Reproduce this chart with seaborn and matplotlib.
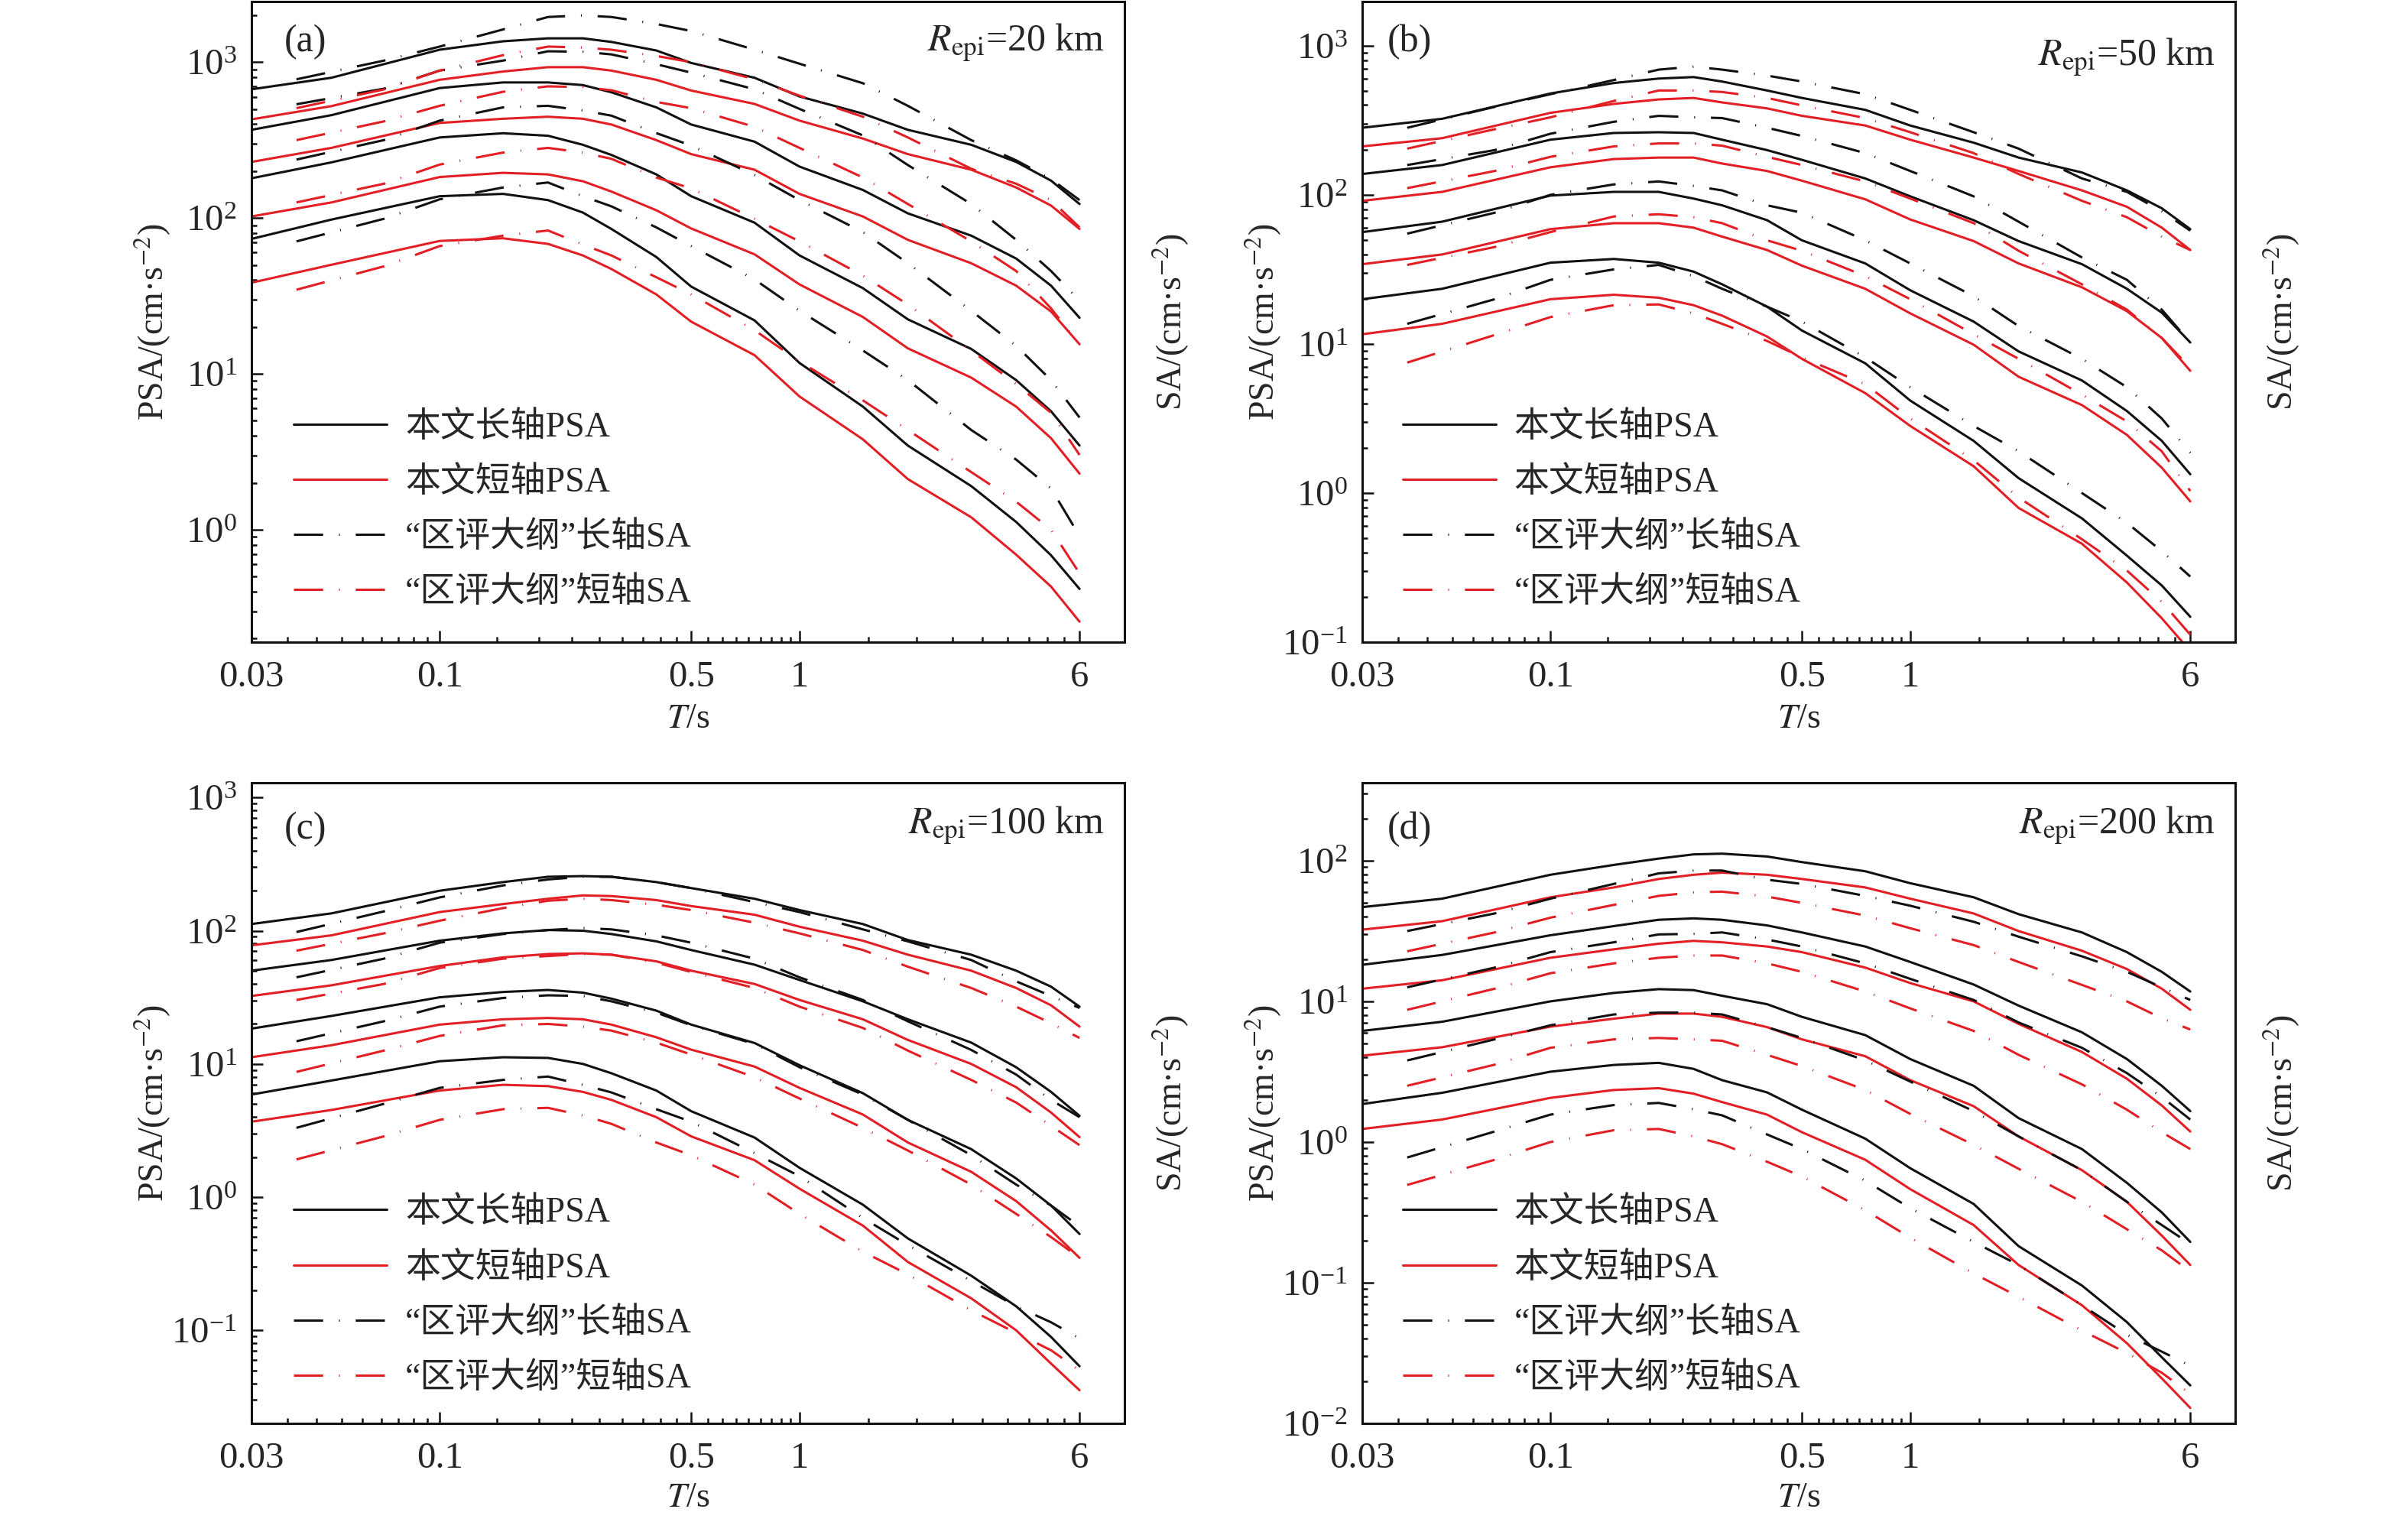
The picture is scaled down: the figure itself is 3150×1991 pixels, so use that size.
import numpy as np
import pandas as pd
import matplotlib
matplotlib.use('Agg')
import matplotlib.pyplot as plt  # type: ignore
import seaborn as sns  # type: ignore
from matplotlib.lines import Line2D
from matplotlib.ticker import FixedLocator, FixedFormatter, LogLocator, NullFormatter

# Periods (s)
T_psa = [0.03, 0.05, 0.1, 0.15, 0.2, 0.25, 0.3, 0.4, 0.5, 0.75, 1.0, 1.5, 2.0, 3.0, 4.0, 5.0, 6.0]
T_sa = [0.04, 0.07, 0.1, 0.15, 0.2, 0.25, 0.3, 0.4, 0.5, 0.75, 1.0, 1.5, 2.0, 3.0, 4.0, 5.0, 6.0]

# log10 of acceleration (cm/s^2), 4 magnitude groups per curve type
# (a) Repi = 20 km
psa_long_a = [
    [2.826, 2.90, 3.08, 3.134, 3.153, 3.153, 3.13, 3.075, 2.995, 2.90, 2.78, 2.67, 2.566, 2.47, 2.36, 2.24, 2.09],
    [2.566, 2.66, 2.834, 2.87, 2.87, 2.853, 2.807, 2.71, 2.60, 2.49, 2.33, 2.18, 2.03, 1.887, 1.74, 1.566, 1.36],
    [2.255, 2.357, 2.517, 2.544, 2.528, 2.47, 2.405, 2.28, 2.14, 1.97, 1.76, 1.55, 1.35, 1.16, 0.96, 0.76, 0.54],
    [1.866, 1.99, 2.14, 2.155, 2.115, 2.035, 1.93, 1.75, 1.56, 1.343, 1.07, 0.79, 0.54, 0.28, 0.05, -0.164, -0.38],
]
psa_short_a = [
    [2.633, 2.718, 2.887, 2.94, 2.968, 2.968, 2.946, 2.887, 2.818, 2.732, 2.625, 2.51, 2.41, 2.31, 2.196, 2.08, 1.93],
    [2.36, 2.45, 2.61, 2.637, 2.65, 2.637, 2.60, 2.50, 2.41, 2.31, 2.155, 2.01, 1.86, 1.71, 1.566, 1.40, 1.19],
    [2.01, 2.10, 2.263, 2.29, 2.28, 2.236, 2.17, 2.05, 1.933, 1.767, 1.574, 1.365, 1.164, 0.976, 0.79, 0.587, 0.36],
    [1.585, 1.70, 1.853, 1.87, 1.834, 1.76, 1.673, 1.51, 1.335, 1.12, 0.855, 0.58, 0.325, 0.08, -0.16, -0.365, -0.59],
]
sa_long_a = [
    [2.89, 3.01, 3.10, 3.21, 3.29, 3.30, 3.29, 3.245, 3.20, 3.08, 2.99, 2.865, 2.72, 2.50, 2.37, 2.25, 2.115],
    [2.73, 2.83, 2.946, 3.01, 3.07, 3.067, 3.05, 2.987, 2.933, 2.826, 2.70, 2.53, 2.34, 2.09, 1.86, 1.66, 1.47],
    [2.375, 2.50, 2.625, 2.71, 2.72, 2.69, 2.657, 2.545, 2.465, 2.276, 2.115, 1.91, 1.71, 1.405, 1.18, 0.96, 0.72],
    [1.85, 1.995, 2.12, 2.196, 2.228, 2.14, 2.075, 1.94, 1.82, 1.606, 1.405, 1.15, 0.96, 0.64, 0.45, 0.265, -0.04],
]
sa_short_a = [
    [2.705, 2.825, 2.946, 3.045, 3.10, 3.094, 3.08, 3.04, 3.0, 2.89, 2.785, 2.65, 2.517, 2.316, 2.22, 2.115, 1.94],
    [2.50, 2.62, 2.72, 2.81, 2.845, 2.84, 2.82, 2.745, 2.705, 2.585, 2.45, 2.26, 2.09, 1.85, 1.66, 1.42, 1.19],
    [2.10, 2.22, 2.343, 2.42, 2.45, 2.42, 2.38, 2.26, 2.19, 1.995, 1.85, 1.63, 1.445, 1.15, 0.935, 0.75, 0.48],
    [1.54, 1.69, 1.82, 1.887, 1.92, 1.83, 1.76, 1.62, 1.51, 1.28, 1.08, 0.83, 0.64, 0.37, 0.18, 0.0, -0.28],
]

# (b) Repi = 50 km
psa_long_b = [
    [2.45, 2.51, 2.68, 2.75, 2.78, 2.79, 2.76, 2.70, 2.65, 2.57, 2.465, 2.35, 2.25, 2.15, 2.03, 1.91, 1.77],
    [2.14, 2.20, 2.37, 2.415, 2.42, 2.415, 2.37, 2.30, 2.235, 2.11, 1.99, 1.83, 1.69, 1.535, 1.37, 1.21, 1.01],
    [1.75, 1.82, 1.995, 2.02, 2.02, 1.975, 1.93, 1.83, 1.695, 1.54, 1.36, 1.15, 0.95, 0.755, 0.55, 0.35, 0.126],
    [1.30, 1.37, 1.545, 1.57, 1.545, 1.485, 1.40, 1.25, 1.09, 0.87, 0.62, 0.35, 0.10, -0.17, -0.42, -0.62, -0.83],
]
psa_short_b = [
    [2.325, 2.38, 2.55, 2.61, 2.64, 2.65, 2.62, 2.58, 2.53, 2.465, 2.37, 2.25, 2.16, 2.03, 1.92, 1.78, 1.63],
    [1.96, 2.02, 2.185, 2.24, 2.25, 2.25, 2.21, 2.16, 2.095, 1.97, 1.835, 1.69, 1.54, 1.38, 1.22, 1.04, 0.82],
    [1.535, 1.60, 1.77, 1.81, 1.81, 1.78, 1.72, 1.63, 1.525, 1.37, 1.205, 0.995, 0.78, 0.59, 0.39, 0.17, -0.056],
    [1.065, 1.135, 1.30, 1.33, 1.31, 1.26, 1.19, 1.05, 0.90, 0.67, 0.45, 0.18, -0.10, -0.34, -0.60, -0.84, -1.06],
]
sa_long_b = [
    [2.45, 2.59, 2.675, 2.77, 2.84, 2.86, 2.84, 2.80, 2.76, 2.675, 2.57, 2.42, 2.31, 2.11, 2.02, 1.89, 1.76],
    [2.20, 2.30, 2.41, 2.49, 2.53, 2.52, 2.515, 2.45, 2.395, 2.28, 2.16, 1.99, 1.82, 1.58, 1.43, 1.23, 1.01],
    [1.74, 1.88, 2.0, 2.07, 2.09, 2.06, 2.03, 1.93, 1.88, 1.695, 1.54, 1.32, 1.12, 0.90, 0.71, 0.50, 0.27],
    [1.135, 1.30, 1.43, 1.50, 1.53, 1.455, 1.37, 1.25, 1.15, 0.91, 0.71, 0.45, 0.28, 0.0, -0.20, -0.39, -0.56],
]
sa_short_b = [
    [2.31, 2.44, 2.52, 2.63, 2.70, 2.70, 2.69, 2.65, 2.60, 2.515, 2.42, 2.28, 2.14, 1.96, 1.85, 1.72, 1.63],
    [2.045, 2.16, 2.255, 2.325, 2.345, 2.345, 2.33, 2.255, 2.20, 2.09, 1.975, 1.81, 1.625, 1.40, 1.23, 1.04, 0.84],
    [1.53, 1.65, 1.75, 1.855, 1.87, 1.85, 1.81, 1.695, 1.625, 1.455, 1.30, 1.065, 0.90, 0.66, 0.48, 0.28, 0.014],
    [0.875, 1.06, 1.18, 1.26, 1.265, 1.205, 1.135, 1.02, 0.91, 0.73, 0.50, 0.22, -0.03, -0.31, -0.52, -0.73, -0.95],
]

# (c) Repi = 100 km
psa_long_c = [
    [2.05, 2.13, 2.30, 2.365, 2.405, 2.41, 2.405, 2.365, 2.32, 2.24, 2.155, 2.05, 1.93, 1.82, 1.70, 1.58, 1.43],
    [1.70, 1.78, 1.925, 1.98, 2.005, 2.0, 1.975, 1.92, 1.855, 1.745, 1.63, 1.47, 1.335, 1.16, 0.975, 0.79, 0.61],
    [1.265, 1.36, 1.50, 1.54, 1.555, 1.535, 1.49, 1.40, 1.295, 1.157, 0.99, 0.78, 0.58, 0.36, 0.14, -0.063, -0.277],
    [0.77, 0.875, 1.02, 1.05, 1.045, 1.0, 0.93, 0.80, 0.645, 0.447, 0.22, -0.057, -0.31, -0.59, -0.82, -1.05, -1.27],
]
psa_short_c = [
    [1.89, 1.965, 2.14, 2.20, 2.24, 2.265, 2.26, 2.23, 2.185, 2.12, 2.03, 1.925, 1.82, 1.70, 1.57, 1.44, 1.28],
    [1.51, 1.59, 1.735, 1.80, 1.825, 1.83, 1.82, 1.77, 1.70, 1.60, 1.48, 1.335, 1.18, 1.0, 0.825, 0.635, 0.45],
    [1.05, 1.14, 1.295, 1.335, 1.345, 1.335, 1.295, 1.20, 1.107, 0.98, 0.82, 0.62, 0.41, 0.19, -0.03, -0.25, -0.456],
    [0.566, 0.654, 0.80, 0.843, 0.833, 0.79, 0.73, 0.60, 0.456, 0.277, 0.063, -0.214, -0.487, -0.76, -1.0, -1.25, -1.45],
]
sa_long_c = [
    [1.99, 2.145, 2.25, 2.34, 2.385, 2.405, 2.405, 2.365, 2.32, 2.215, 2.14, 2.01, 1.92, 1.78, 1.62, 1.51, 1.42],
    [1.65, 1.79, 1.91, 1.975, 2.005, 2.02, 2.01, 1.965, 1.91, 1.79, 1.65, 1.48, 1.32, 1.105, 0.92, 0.73, 0.60],
    [1.17, 1.32, 1.43, 1.495, 1.515, 1.51, 1.47, 1.385, 1.29, 1.15, 0.975, 0.77, 0.58, 0.315, 0.094, -0.063, -0.22],
    [0.52, 0.70, 0.82, 0.88, 0.905, 0.843, 0.786, 0.66, 0.566, 0.33, 0.157, -0.157, -0.36, -0.63, -0.82, -0.94, -1.06],
]
sa_short_c = [
    [1.85, 1.98, 2.075, 2.17, 2.225, 2.24, 2.23, 2.195, 2.155, 2.06, 1.98, 1.855, 1.73, 1.57, 1.43, 1.305, 1.195],
    [1.48, 1.60, 1.72, 1.79, 1.81, 1.825, 1.82, 1.76, 1.69, 1.57, 1.43, 1.27, 1.10, 0.88, 0.71, 0.535, 0.39],
    [0.94, 1.10, 1.21, 1.29, 1.30, 1.28, 1.25, 1.16, 1.07, 0.90, 0.74, 0.52, 0.35, 0.094, -0.126, -0.30, -0.456],
    [0.283, 0.456, 0.58, 0.66, 0.67, 0.613, 0.55, 0.41, 0.314, 0.094, -0.126, -0.41, -0.58, -0.85, -1.02, -1.15, -1.30],
]

# (d) Repi = 200 km
psa_long_d = [
    [1.67, 1.73, 1.90, 1.97, 2.015, 2.045, 2.05, 2.03, 1.99, 1.925, 1.84, 1.74, 1.62, 1.49, 1.35, 1.21, 1.07],
    [1.26, 1.33, 1.47, 1.535, 1.58, 1.59, 1.58, 1.54, 1.49, 1.39, 1.28, 1.12, 0.97, 0.78, 0.59, 0.40, 0.22],
    [0.79, 0.855, 1.0, 1.06, 1.087, 1.08, 1.04, 0.98, 0.89, 0.76, 0.59, 0.40, 0.17, -0.05, -0.29, -0.50, -0.71],
    [0.27, 0.35, 0.50, 0.548, 0.563, 0.52, 0.44, 0.353, 0.23, 0.024, -0.186, -0.44, -0.74, -1.02, -1.28, -1.53, -1.73],
]
psa_short_d = [
    [1.51, 1.57, 1.74, 1.81, 1.87, 1.90, 1.915, 1.90, 1.87, 1.81, 1.73, 1.625, 1.50, 1.36, 1.23, 1.09, 0.94],
    [1.09, 1.15, 1.31, 1.37, 1.41, 1.43, 1.42, 1.39, 1.35, 1.24, 1.13, 1.0, 0.84, 0.64, 0.45, 0.26, 0.075],
    [0.614, 0.674, 0.82, 0.877, 0.913, 0.913, 0.89, 0.817, 0.73, 0.61, 0.44, 0.255, 0.04, -0.20, -0.425, -0.665, -0.874],
    [0.093, 0.16, 0.314, 0.37, 0.383, 0.344, 0.284, 0.195, 0.07, -0.126, -0.335, -0.59, -0.874, -1.16, -1.43, -1.68, -1.89],
]
sa_long_d = [
    [1.50, 1.625, 1.73, 1.835, 1.91, 1.93, 1.93, 1.865, 1.835, 1.75, 1.68, 1.566, 1.46, 1.32, 1.21, 1.10, 1.01],
    [1.10, 1.24, 1.35, 1.42, 1.476, 1.48, 1.49, 1.44, 1.39, 1.27, 1.16, 1.01, 0.85, 0.67, 0.49, 0.32, 0.16],
    [0.58, 0.73, 0.83, 0.907, 0.92, 0.92, 0.907, 0.817, 0.74, 0.58, 0.43, 0.22, 0.04, -0.20, -0.425, -0.59, -0.725],
    [-0.11, 0.075, 0.195, 0.263, 0.278, 0.233, 0.19, 0.054, -0.05, -0.275, -0.47, -0.71, -0.874, -1.16, -1.37, -1.49, -1.59],
]
sa_short_d = [
    [1.356, 1.49, 1.595, 1.686, 1.75, 1.775, 1.78, 1.745, 1.70, 1.61, 1.52, 1.40, 1.28, 1.117, 1.0, 0.88, 0.80],
    [0.94, 1.09, 1.20, 1.27, 1.31, 1.326, 1.326, 1.27, 1.21, 1.07, 0.95, 0.79, 0.62, 0.41, 0.23, 0.07, -0.05],
    [0.40, 0.55, 0.67, 0.73, 0.74, 0.73, 0.72, 0.62, 0.54, 0.37, 0.20, -0.02, -0.19, -0.425, -0.62, -0.77, -0.92],
    [-0.305, -0.126, 0.0, 0.084, 0.093, 0.04, -0.015, -0.14, -0.245, -0.485, -0.68, -0.934, -1.10, -1.34, -1.50, -1.64, -1.79],
]

kinds = ['本文长轴PSA', '本文短轴PSA', '“区评大纲”长轴SA', '“区评大纲”短轴SA']
panel_tags = ['(a)', '(b)', '(c)', '(d)']
distances = [20, 50, 100, 200]
x_major = [0.03, 0.1, 0.5, 1, 6]
x_major_labels = ['0.03', '0.1', '0.5', '1', '6']

BLACK = '#111111'
RED = '#e31f26'
DASHDOT = (12.5, 6.8, 0.35, 6.8)
palette = {kinds[0]: BLACK, kinds[1]: RED, kinds[2]: BLACK, kinds[3]: RED}
dash_map = {kinds[0]: '', kinds[1]: '', kinds[2]: DASHDOT, kinds[3]: DASHDOT}

panels = [
    dict(psa_l=psa_long_a, psa_s=psa_short_a, sa_l=sa_long_a, sa_s=sa_short_a, ylim=(0.19, 2450)),
    dict(psa_l=psa_long_b, psa_s=psa_short_b, sa_l=sa_long_b, sa_s=sa_short_b, ylim=(0.1, 1980)),
    dict(psa_l=psa_long_c, psa_s=psa_short_c, sa_l=sa_long_c, sa_s=sa_short_c, ylim=(0.02, 1290)),
    dict(psa_l=psa_long_d, psa_s=psa_short_d, sa_l=sa_long_d, sa_s=sa_short_d, ylim=(0.01, 358)),
]


def to_frame(p):
    rows = []
    for kind, key, periods in [(kinds[0], 'psa_l', T_psa), (kinds[1], 'psa_s', T_psa),
                               (kinds[2], 'sa_l', T_sa), (kinds[3], 'sa_s', T_sa)]:
        for g, logs in enumerate(p[key]):
            for t, lv in zip(periods, logs):
                rows.append({'T': t, 'A': 10 ** lv, 'kind': kind, 'grp': g})
    return pd.DataFrame(rows)


sns.set_theme(style='ticks')
plt.rcParams['font.family'] = ['Liberation Serif', 'Noto Sans CJK SC', 'DejaVu Sans']
plt.rcParams['mathtext.fontset'] = 'stix'
plt.rcParams['axes.linewidth'] = 1.1
plt.rcParams['axes.edgecolor'] = '#111111'

fig = plt.figure(figsize=(15.75, 9.955), dpi=200)
W, H = 3150, 1991
boxes = [(329, 2), (1782, 2), (329, 1024), (1782, 1024)]  # left, top in pixels
aw, ah = 1142, 838

# minor x ticks: 8 equal steps between consecutive labelled ticks
x_minor = []
for lo, hi in zip(x_major[:-1], x_major[1:]):
    x_minor += list(np.linspace(lo, hi, 10)[1:-1])

for i, p in enumerate(panels):
    left, top = boxes[i]
    ax = fig.add_axes([left / W, 1 - (top + ah) / H, aw / W, ah / H])
    df = to_frame(p)
    sns.lineplot(data=df, x='T', y='A', hue='kind', style='kind', units='grp',
                 estimator=None, sort=False, palette=palette, dashes=dash_map,
                 hue_order=kinds, style_order=kinds, linewidth=1.1, legend=False, ax=ax)
    ax.set_xscale('log')
    ax.set_yscale('log')
    ax.set_xlim(0.03, 8)
    ax.set_ylim(*p['ylim'])
    ax.xaxis.set_major_locator(FixedLocator(x_major))
    ax.xaxis.set_major_formatter(FixedFormatter(x_major_labels))
    ax.xaxis.set_minor_locator(FixedLocator(x_minor))
    ax.xaxis.set_minor_formatter(NullFormatter())
    ax.yaxis.set_major_locator(LogLocator(base=10, numticks=20))
    ax.yaxis.set_minor_locator(LogLocator(base=10, subs=np.arange(2, 10), numticks=100))
    ax.yaxis.set_minor_formatter(NullFormatter())
    ax.tick_params(which='both', direction='in', top=False, right=False, color='#111111')
    ax.tick_params(which='major', length=5.5, width=0.9, labelsize=17.5)
    ax.tick_params(which='minor', length=2.6, width=0.9)
    ax.tick_params(axis='x', which='major', pad=8.5)
    ax.tick_params(axis='y', which='major', pad=7)
    ax.set_xlabel('')
    ax.set_ylabel('')

    ax.text(-0.113, 0.5, 'PSA/(cm·s$^{-2}$)', transform=ax.transAxes, rotation=90,
            ha='center', va='center', fontsize=16.5)
    ax.text(1.053, 0.5, 'SA/(cm·s$^{-2}$)', transform=ax.transAxes, rotation=90,
            ha='center', va='center', fontsize=16.5)
    ax.text(0.5, -0.12 if i < 2 else -0.117, '$T$/s', transform=ax.transAxes,
            ha='center', va='center', fontsize=16.5)

    tag_x = 0.062 if i % 2 == 0 else 0.054
    tag_y = 0.937 if i < 2 else 0.927
    ax.text(tag_x, tag_y, panel_tags[i], transform=ax.transAxes, ha='center', va='center', fontsize=18)
    r_y = [0.936, 0.913, 0.934, 0.934][i]
    ax.text(0.977, r_y, r'$R_{\mathrm{epi}}$' + f'={distances[i]} km', transform=ax.transAxes,
            ha='right', va='center', fontsize=18)

    handles = [Line2D([], [], color=palette[k], lw=1.1,
                      linestyle='-' if dash_map[k] == '' else (0, DASHDOT)) for k in kinds]
    leg_y = 0.206 if i < 2 else 0.199
    leg_x = 0.048 if i % 2 == 0 else 0.046
    ax.legend(handles, kinds, loc='center left', bbox_to_anchor=(leg_x, leg_y),
              frameon=False, fontsize=16.5, handlelength=2.67, handletextpad=0.52,
              labelspacing=0.64, borderpad=0, borderaxespad=0)

fig.savefig('out.png', dpi=200)
